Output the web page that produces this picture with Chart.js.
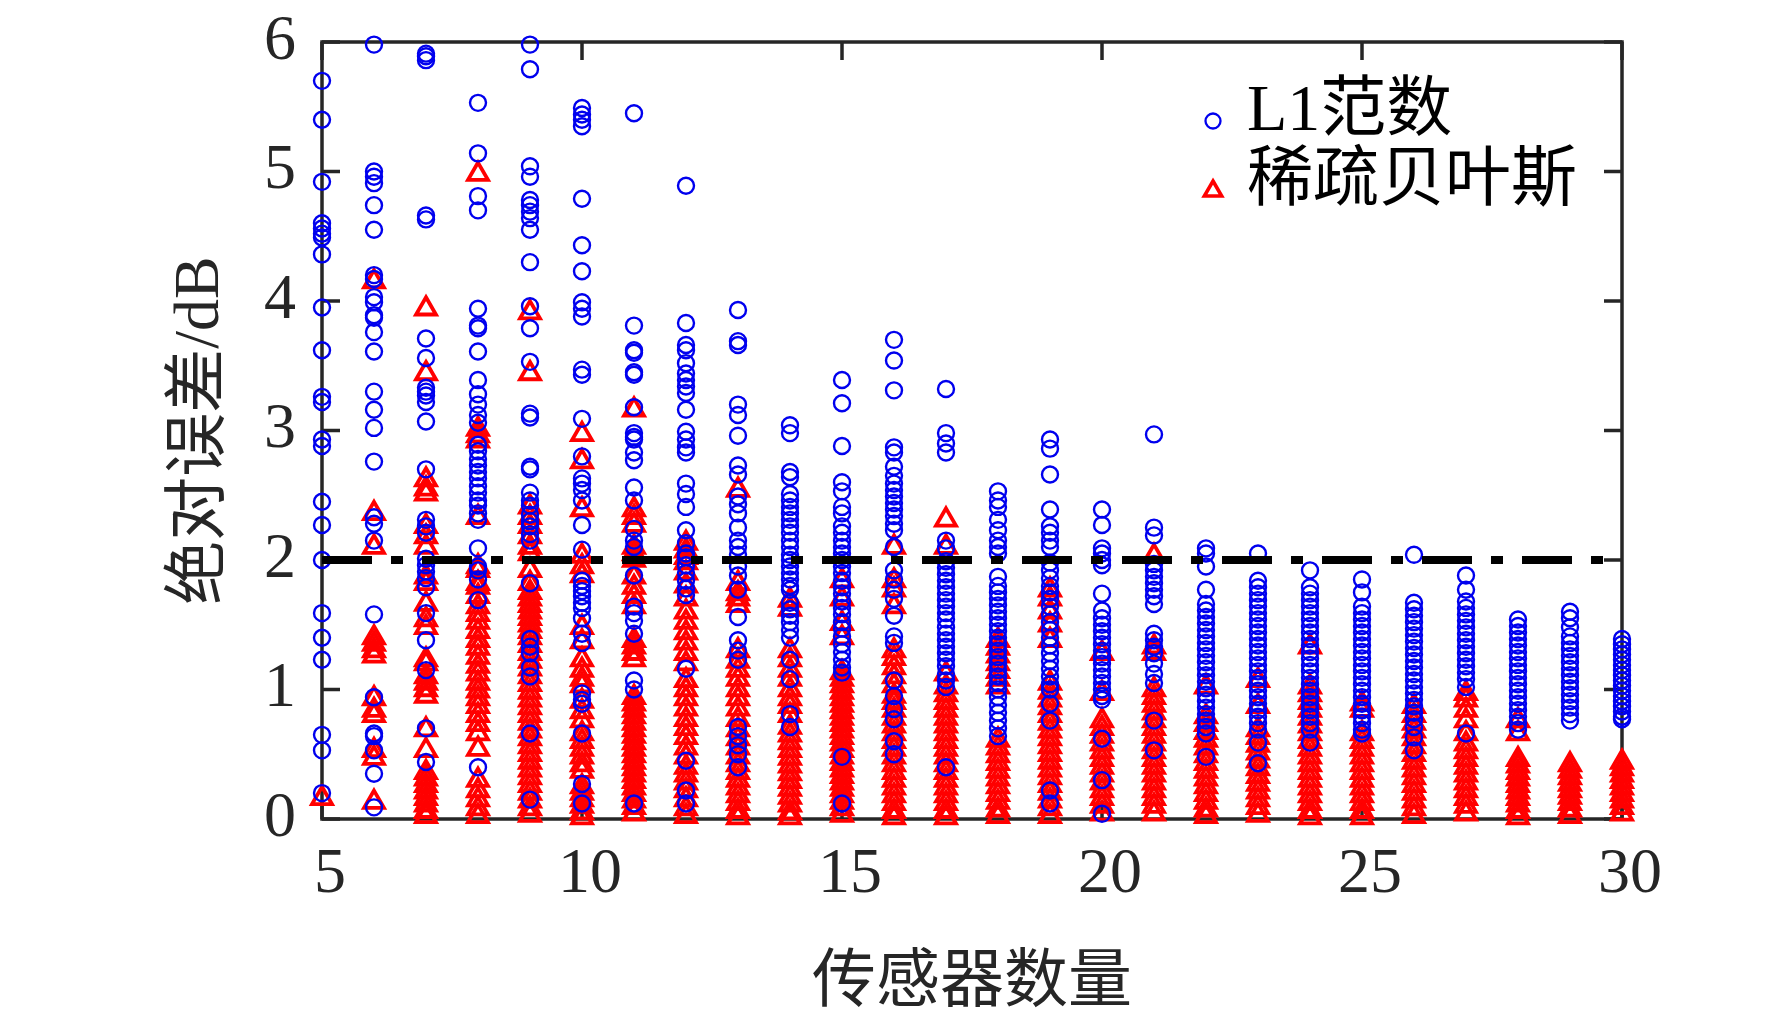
<!DOCTYPE html>
<html><head><meta charset="utf-8">
<script src="https://cdn.jsdelivr.net/npm/chart.js@4.4.1/dist/chart.umd.min.js"></script>
<style>html,body{margin:0;padding:0;background:#fff;}canvas{display:block;}</style>
</head><body>
<canvas id="c" width="1772" height="1019"></canvas>
<script>
const sensorCounts = [5,6,7,8,9,10,11,12,13,14,15,16,17,18,19,20,21,22,23,24,25,26,27,28,29,30];

const l1NormErrors = [
  [5.70,5.40,4.92,4.60,4.56,4.52,4.49,4.36,3.95,3.62,3.26,3.22,2.93,2.88,2.45,2.27,2.00,1.59,1.40,1.23,0.65,0.53,0.20],
  [5.98,5.00,4.96,4.91,4.74,4.55,4.20,4.17,4.03,3.99,3.89,3.87,3.76,3.61,3.30,3.16,3.02,2.76,2.33,2.28,2.15,1.58,0.94,0.66,0.64,0.53,0.35,0.09],
  [5.91,5.89,5.86,4.66,4.63,3.71,3.56,3.33,3.30,3.27,3.22,3.07,2.70,2.31,2.26,2.21,2.01,1.96,1.91,1.86,1.79,1.59,1.38,1.15,0.70,0.44],
  [5.53,5.14,4.81,4.70,3.94,3.81,3.79,3.61,3.39,3.28,3.20,3.12,3.06,2.89,2.84,2.78,2.73,2.68,2.63,2.57,2.52,2.46,2.42,2.36,2.31,2.09,1.95,1.92,1.85,1.69,0.40],
  [5.98,5.79,5.04,4.96,4.78,4.74,4.69,4.64,4.55,4.30,3.96,3.79,3.53,3.13,3.10,2.72,2.70,2.52,2.46,2.42,2.35,2.30,2.26,2.20,2.15,1.82,1.39,1.33,1.28,1.17,1.10,0.66,0.15],
  [5.49,5.44,5.40,5.35,4.79,4.43,4.23,3.99,3.94,3.88,3.47,3.43,3.09,2.80,2.63,2.59,2.54,2.46,2.27,2.08,1.84,1.80,1.76,1.72,1.67,1.63,1.55,1.43,1.36,0.97,0.92,0.89,0.66,0.27,0.12],
  [5.45,3.81,3.62,3.60,3.45,3.43,3.18,2.98,2.95,2.93,2.83,2.77,2.56,2.46,2.24,2.15,2.10,1.88,1.64,1.59,1.53,1.43,1.07,1.00,0.12],
  [4.89,3.83,3.66,3.62,3.52,3.44,3.39,3.34,3.29,3.16,2.99,2.93,2.87,2.83,2.59,2.51,2.41,2.23,2.13,2.05,2.02,1.96,1.90,1.84,1.78,1.73,1.16,0.45,0.22,0.12],
  [3.93,3.69,3.66,3.20,3.12,2.96,2.73,2.66,2.49,2.43,2.36,2.25,2.15,2.10,2.04,1.95,1.88,1.77,1.56,1.38,1.30,1.23,0.71,0.64,0.57,0.50,0.40],
  [3.04,2.98,2.68,2.64,2.51,2.46,2.41,2.36,2.31,2.26,2.21,2.15,2.10,2.04,2.00,1.95,1.90,1.85,1.80,1.77,1.67,1.62,1.57,1.52,1.46,1.40,1.23,1.08,0.81,0.71],
  [3.39,3.21,2.88,2.60,2.53,2.41,2.36,2.26,2.21,2.15,2.10,2.05,2.00,1.95,1.90,1.84,1.79,1.74,1.68,1.63,1.58,1.52,1.47,1.41,1.35,1.29,1.23,1.17,1.13,0.48,0.12],
  [3.70,3.54,3.31,2.87,2.83,2.72,2.65,2.59,2.54,2.49,2.44,2.39,2.34,2.28,2.23,2.10,1.92,1.85,1.77,1.70,1.57,1.41,1.36,1.07,0.95,0.85,0.77,0.60,0.50],
  [3.32,2.98,2.90,2.83,2.15,2.09,1.99,1.94,1.89,1.84,1.79,1.74,1.69,1.64,1.59,1.54,1.48,1.43,1.38,1.33,1.28,1.23,1.18,1.12,1.07,1.02,0.40],
  [2.53,2.46,2.41,2.31,2.23,2.15,2.10,2.05,1.87,1.80,1.75,1.70,1.65,1.60,1.55,1.50,1.45,1.40,1.35,1.30,1.25,1.20,1.15,1.10,1.05,1.00,0.94,0.88,0.82,0.76,0.70,0.64],
  [2.93,2.86,2.66,2.39,2.26,2.21,2.15,2.10,1.98,1.92,1.86,1.80,1.75,1.70,1.64,1.58,1.52,1.46,1.40,1.34,1.28,1.22,1.16,1.10,1.04,1.00,0.89,0.76,0.22,0.12],
  [2.39,2.27,2.09,2.05,2.00,1.96,1.74,1.61,1.55,1.50,1.45,1.40,1.35,1.30,1.25,1.20,1.15,1.10,1.05,1.00,0.95,0.92,0.62,0.30,0.04],
  [2.97,2.25,2.19,1.97,1.92,1.87,1.82,1.77,1.72,1.66,1.43,1.38,1.33,1.28,1.20,1.12,1.05,0.76,0.53],
  [2.09,2.05,1.95,1.77,1.66,1.61,1.56,1.51,1.46,1.41,1.36,1.31,1.26,1.21,1.16,1.11,1.06,1.01,0.96,0.91,0.86,0.81,0.76,0.71,0.66,0.48],
  [2.05,1.84,1.79,1.74,1.69,1.64,1.59,1.54,1.49,1.44,1.39,1.34,1.29,1.24,1.19,1.14,1.09,1.04,0.99,0.94,0.89,0.84,0.79,0.74,0.69,0.59,0.43],
  [1.92,1.79,1.74,1.69,1.64,1.59,1.54,1.49,1.44,1.39,1.34,1.29,1.24,1.19,1.14,1.09,1.04,0.99,0.94,0.89,0.84,0.79,0.74,0.69,0.59],
  [1.85,1.75,1.64,1.59,1.54,1.49,1.44,1.39,1.34,1.29,1.24,1.19,1.14,1.09,1.04,0.99,0.94,0.89,0.84,0.79,0.74,0.69,0.66],
  [2.04,1.67,1.62,1.57,1.52,1.47,1.42,1.37,1.32,1.27,1.22,1.17,1.12,1.07,1.02,0.97,0.92,0.87,0.82,0.77,0.71,0.63,0.53],
  [1.88,1.77,1.68,1.63,1.58,1.53,1.48,1.43,1.38,1.33,1.28,1.23,1.18,1.13,1.08,1.02,0.66],
  [1.54,1.49,1.44,1.39,1.34,1.29,1.24,1.19,1.14,1.09,1.04,0.99,0.94,0.89,0.84,0.79,0.74,0.69],
  [1.60,1.55,1.48,1.41,1.36,1.31,1.26,1.21,1.16,1.11,1.06,1.01,0.96,0.91,0.86,0.81,0.76],
  [1.39,1.35,1.31,1.27,1.23,1.19,1.15,1.11,1.07,1.03,0.99,0.95,0.91,0.87,0.83,0.79,0.77]
];

const sparseBayesErrors = [
  [0.16],
  [4.15,2.36,2.10,1.40,1.35,1.30,1.26,0.93,0.84,0.80,0.53,0.47,0.13],
  [3.94,3.44,2.62,2.55,2.51,2.26,2.18,2.10,1.87,1.82,1.66,1.54,1.48,1.23,1.20,1.10,1.05,1.00,0.95,0.69,0.53,0.36,0.31,0.26,0.21,0.16,0.11,0.06,0.02],
  [4.98,3.01,2.96,2.92,2.33,1.95,1.92,1.82,1.79,1.72,1.64,1.58,1.52,1.45,1.38,1.32,1.25,1.18,1.12,1.05,0.99,0.93,0.87,0.80,0.73,0.66,0.54,0.30,0.22,0.15,0.08,0.02],
  [3.91,3.44,2.41,2.33,2.26,2.18,2.10,2.05,1.92,1.82,1.75,1.70,1.65,1.60,1.55,1.50,1.45,1.40,1.34,1.28,1.22,1.16,1.10,1.04,0.98,0.92,0.86,0.80,0.74,0.68,0.62,0.56,0.50,0.44,0.38,0.32,0.26,0.20,0.14,0.08,0.03],
  [2.97,2.76,2.39,2.03,1.95,1.88,1.48,1.37,1.23,1.15,1.08,1.03,0.91,0.83,0.76,0.66,0.60,0.54,0.48,0.42,0.37,0.25,0.20,0.15,0.10,0.05,0.01],
  [3.16,2.39,2.33,2.27,2.10,2.05,2.00,1.87,1.79,1.72,1.64,1.38,1.33,1.28,1.23,0.94,0.89,0.84,0.79,0.74,0.69,0.64,0.59,0.54,0.49,0.44,0.39,0.34,0.29,0.24,0.19,0.14,0.09,0.04],
  [2.13,2.07,2.02,1.98,1.90,1.80,1.70,1.60,1.52,1.44,1.36,1.28,1.20,1.07,1.00,0.93,0.85,0.77,0.70,0.63,0.55,0.48,0.40,0.34,0.28,0.22,0.15,0.08,0.02],
  [2.54,1.82,1.74,1.70,1.65,1.30,1.22,1.15,1.08,1.00,0.93,0.85,0.77,0.69,0.62,0.55,0.48,0.42,0.36,0.30,0.24,0.18,0.12,0.06,0.01],
  [1.69,1.62,1.30,1.23,1.15,1.08,1.00,0.93,0.87,0.80,0.71,0.65,0.59,0.53,0.47,0.41,0.35,0.29,0.23,0.17,0.11,0.05,0.01],
  [1.84,1.70,1.51,1.40,1.13,1.08,1.03,0.98,0.93,0.88,0.83,0.78,0.73,0.68,0.63,0.58,0.53,0.48,0.43,0.38,0.33,0.28,0.23,0.18,0.13,0.08,0.03],
  [2.10,1.84,1.77,1.64,1.30,1.24,1.17,1.10,1.03,0.95,0.90,0.84,0.78,0.72,0.66,0.60,0.54,0.48,0.42,0.36,0.30,0.24,0.18,0.12,0.06,0.01],
  [2.31,2.10,1.12,1.02,0.96,0.90,0.84,0.78,0.72,0.66,0.60,0.54,0.48,0.42,0.36,0.30,0.24,0.18,0.12,0.06,0.01],
  [1.38,1.32,1.26,1.20,1.14,1.08,1.02,0.61,0.55,0.49,0.43,0.37,0.31,0.25,0.19,0.13,0.07,0.02],
  [1.77,1.70,1.60,1.50,1.38,1.05,0.98,0.92,0.86,0.80,0.74,0.68,0.62,0.56,0.50,0.44,0.38,0.32,0.26,0.20,0.14,0.08,0.02],
  [1.28,0.97,0.76,0.70,0.64,0.58,0.52,0.46,0.40,0.34,0.28,0.22,0.16,0.10,0.04],
  [2.03,1.33,1.28,1.00,0.94,0.88,0.82,0.76,0.70,0.64,0.58,0.52,0.46,0.40,0.34,0.28,0.22,0.16,0.10,0.04],
  [1.02,0.79,0.73,0.67,0.61,0.55,0.49,0.43,0.37,0.31,0.25,0.19,0.13,0.07,0.02],
  [1.07,0.87,0.69,0.63,0.57,0.51,0.45,0.39,0.33,0.27,0.21,0.15,0.09,0.03],
  [1.33,1.02,0.96,0.90,0.84,0.78,0.72,0.66,0.60,0.54,0.48,0.42,0.36,0.30,0.24,0.18,0.12,0.06,0.01],
  [0.89,0.84,0.66,0.60,0.54,0.48,0.42,0.36,0.30,0.24,0.18,0.12,0.06,0.01],
  [0.87,0.80,0.74,0.68,0.62,0.56,0.50,0.44,0.38,0.32,0.26,0.20,0.14,0.08,0.02],
  [0.97,0.92,0.84,0.76,0.66,0.58,0.52,0.46,0.40,0.34,0.28,0.22,0.16,0.10,0.04],
  [0.76,0.66,0.46,0.41,0.36,0.31,0.26,0.21,0.16,0.11,0.06,0.01],
  [0.42,0.37,0.32,0.27,0.22,0.17,0.12,0.07,0.02],
  [0.44,0.39,0.34,0.29,0.24,0.19,0.14,0.09,0.04]
];

const xTickValues = [5,10,15,20,25,30];
const yTickValues = [0,1,2,3,4,5,6];
const thresholdLevel = 2;
const seriesNames = ['L1范数','稀疏贝叶斯'];
const xAxisTitle = '传感器数量';
const yAxisTitle = '绝对误差/dB';

function toPoints(lists){
  const pts = [];
  lists.forEach((vals,i)=>vals.forEach(v=>pts.push({x:sensorCounts[i], y:v})));
  return pts;
}

const BLUE = '#0000ee', RED = '#ff0000', AXIS = '#262626';
const serif = '"Liberation Serif", "Times New Roman", "Noto Sans CJK SC", serif';

const framePlugin = {
  id:'frame',
  beforeDatasetsDraw(chart){
    const {ctx, chartArea:a, scales:{x,y}} = chart;
    ctx.save();
    ctx.strokeStyle = AXIS; ctx.lineWidth = 3.5;
    ctx.strokeRect(a.left, a.top, a.right-a.left, a.bottom-a.top);
    const L = 18;
    ctx.beginPath();
    xTickValues.forEach(v=>{const px=x.getPixelForValue(v);
      ctx.moveTo(px,a.bottom); ctx.lineTo(px,a.bottom-L);
      ctx.moveTo(px,a.top); ctx.lineTo(px,a.top+L);});
    yTickValues.forEach(v=>{const py=y.getPixelForValue(v);
      ctx.moveTo(a.left,py); ctx.lineTo(a.left+L,py);
      ctx.moveTo(a.right,py); ctx.lineTo(a.right-L,py);});
    ctx.stroke();
    ctx.restore();
  }
};

const legendPlugin = {
  id:'inLegend',
  afterDraw(chart){
    const {ctx, chartArea:a} = chart;
    const items = [
      {text:seriesNames[0], style:'circle', r:7.5, color:BLUE, w:2.3},
      {text:seriesNames[1], style:'triangle', r:10, color:RED, w:3.6}
    ];
    const x0 = a.right - 409, y0 = a.top + 79, dy = 70;
    items.forEach((it,i)=>{
      const cy = y0 + i*dy;
      ctx.save();
      ctx.strokeStyle = it.color; ctx.fillStyle = 'rgba(0,0,0,0)'; ctx.lineWidth = it.w;
      Chart.helpers.drawPoint(ctx, {pointStyle:it.style, radius:it.r, borderWidth:it.w, rotation:0}, x0, cy);
      ctx.restore();
      ctx.save();
      ctx.fillStyle = '#000'; ctx.font = '66px ' + serif;
      ctx.textBaseline = 'middle'; ctx.textAlign = 'left';
      ctx.fillText(it.text, x0 + 34, cy - 8);
      ctx.restore();
    });
  }
};

new Chart(document.getElementById('c'), {
  type:'scatter',
  data:{
    datasets:[
      { type:'line', label:'threshold',
        data:[{x:sensorCounts[0], y:thresholdLevel},{x:sensorCounts[sensorCounts.length-1], y:thresholdLevel}],
        borderColor:'#000', borderWidth:8, borderDash:[50,19,12,19], pointRadius:0, showLine:true, fill:false },
      { label:seriesNames[0], data:toPoints(l1NormErrors), pointStyle:'circle', radius:8,
        borderColor:BLUE, backgroundColor:'rgba(0,0,0,0)', borderWidth:2.4, clip:false },
      { label:seriesNames[1], data:toPoints(sparseBayesErrors), pointStyle:'triangle', radius:11.5,
        borderColor:RED, backgroundColor:'rgba(0,0,0,0)', borderWidth:3.8, clip:false }
    ]
  },
  options:{
    responsive:false, animation:false, devicePixelRatio:1, events:[],
    layout:{padding:{left:0, right:150, top:42, bottom:0}},
    plugins:{legend:{display:false}, tooltip:{enabled:false}},
    scales:{
      x:{ type:'linear', min:5, max:30,
        afterBuildTicks(s){ s.ticks = xTickValues.map(v=>({value:v})); },
        afterFit(s){ s.height = 200; s.paddingLeft = 0; s.paddingRight = 0; },
        grid:{display:false, drawTicks:false}, border:{display:false},
        ticks:{ color:AXIS, font:{family:serif, size:64}, padding:18, labelOffset:8, maxRotation:0, autoSkip:false },
        title:{ display:true, text:xAxisTitle, color:AXIS, font:{family:serif, size:64, lineHeight:1}, padding:{top:0,bottom:3} }
      },
      y:{ type:'linear', min:0, max:6,
        afterBuildTicks(s){ s.ticks = yTickValues.map(v=>({value:v})); },
        afterFit(s){ s.width = 322; s.paddingTop = 0; s.paddingBottom = 0; },
        grid:{display:false, drawTicks:false}, border:{display:false},
        ticks:{ color:AXIS, font:{family:serif, size:64}, padding:26, autoSkip:false },
        title:{ display:true, text:yAxisTitle, color:AXIS, font:{family:serif, size:64, lineHeight:1}, padding:{top:169,bottom:0} }
      }
    }
  },
  plugins:[framePlugin, legendPlugin]
});
</script>
</body></html>
